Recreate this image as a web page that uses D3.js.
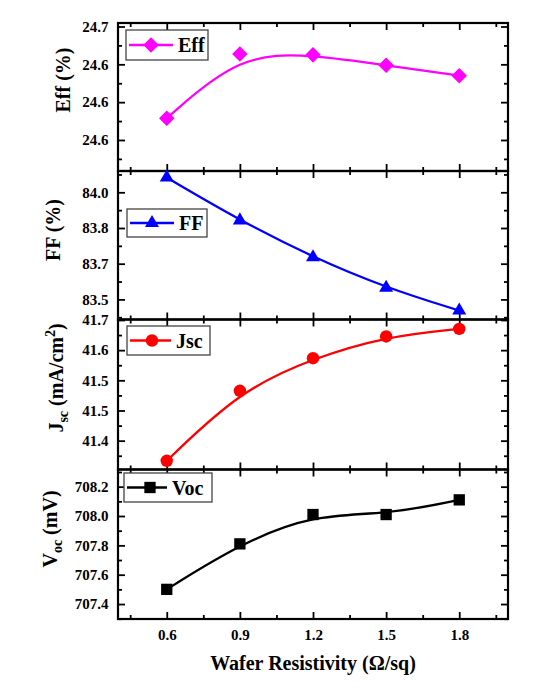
<!DOCTYPE html>
<html lang="en">
<head>
<meta charset="UTF-8">
<title>Cell parameters vs wafer resistivity</title>
<script src="https://d3js.org/d3.v7.min.js"></script>
<style>
  body { margin: 0; background: #fff; }
  svg { display: block; font-family: "Liberation Serif", "Times New Roman", serif; font-weight: bold; }
</style>
</head>
<body>
<svg id="chart" width="553" height="693"></svg>
<script>
// data
const resistivity = [0.6, 0.9, 1.2, 1.5, 1.8];
const effValues = [24.583, 24.651, 24.650, 24.639, 24.628];
const ffValues = [84.062, 83.882, 83.727, 83.599, 83.503];
const jscValues = [41.350, 41.524, 41.605, 41.659, 41.678];
const vocValues = [707.50, 707.81, 708.01, 708.01, 708.11];

const xTicks = [0.6, 0.9, 1.2, 1.5, 1.8];
const xMinorTicks = [0.45, 0.75, 1.05, 1.35, 1.65, 1.95];
const effTicks = [24.56, 24.60, 24.64, 24.68];
const effTickLabels = ["24.6", "24.6", "24.6", "24.7"];
const ffTicks = [83.55, 83.70, 83.85, 84.00];
const ffTickLabels = ["83.5", "83.7", "83.8", "84.0"];
const jscTicks = [41.40, 41.475, 41.55, 41.625, 41.70];
const jscTickLabels = ["41.4", "41.5", "41.5", "41.6", "41.7"];
const vocTicks = [707.4, 707.6, 707.8, 708.0, 708.2];
const vocTickLabels = ["707.4", "707.6", "707.8", "708.0", "708.2"];

const svg = d3.select("#chart");
const left = 118, right = 508;
const edges = [23, 171, 319.5, 469.5, 619];

const x = d3.scaleLinear().domain([0.4, 2.0]).range([left, right]);

const panels = [
  { key: "Eff", values: effValues, ticks: effTicks, labels: effTickLabels, domain: [24.5272, 24.6837],
    color: "#ff00ff", symbol: "diamond", size: 121,
    legend: { x0: 126, x1: 208, y0: 30, y1: 60, mx: 151, tx: 178 }, title: { x: 70, y: 80 } },
  { key: "FF", values: ffValues, ticks: ffTicks, labels: ffTickLabels, domain: [83.4655, 84.0895],
    color: "#0000ff", symbol: "triangle", size: 85,
    legend: { x0: 127, x1: 207, y0: 209, y1: 237, mx: 152, tx: 179 }, title: { x: 60, y: 230 } },
  { key: "Jsc", values: jscValues, ticks: jscTicks, labels: jscTickLabels, domain: [41.3283, 41.7012],
    color: "#ff0000", symbol: "circle", size: 121,
    legend: { x0: 127, x1: 210, y0: 326, y1: 355, mx: 152, tx: 176 }, title: { x: 63, y: 378 } },
  { key: "Voc", values: vocValues, ticks: vocTicks, labels: vocTickLabels, domain: [707.298, 708.317],
    color: "#000000", symbol: "square", size: 128,
    legend: { x0: 124, x1: 212, y0: 473, y1: 502, mx: 150, tx: 172 }, title: { x: 57, y: 529 } }
];

function symbolPath(name, size) {
  const types = { diamond: d3.symbolSquare, triangle: d3.symbolTriangle, circle: d3.symbolCircle, square: d3.symbolSquare };
  return d3.symbol().type(types[name]).size(size)();
}
function symbolTransform(name, px, py) {
  return `translate(${px},${py})` + (name === "diamond" ? " rotate(45)" : "");
}

function styleAxis(sel) {
  sel.select(".domain").remove();
  sel.attr("font-family", null);
  sel.selectAll(".tick line").attr("stroke", "#000").attr("stroke-width", 1.8);
  sel.selectAll(".tick text").attr("fill", "#000")
    .style("font-size", "15px").style("font-family", "'Liberation Serif', 'Times New Roman', serif").style("font-weight", "bold");
}

panels.forEach((p, i) => {
  const top = edges[i], bottom = edges[i + 1];
  const y = d3.scaleLinear().domain(p.domain).range([bottom, top]);
  const g = svg.append("g").attr("class", "panel-" + p.key);

  // minor y ticks at half steps
  const step = p.ticks[1] - p.ticks[0];
  const minor = [];
  for (let v = p.ticks[0] - step / 2; v <= p.domain[1]; v += step) {
    if (v >= p.domain[0] && v <= p.domain[1]) minor.push(v);
  }

  g.append("g").attr("transform", `translate(${left},0)`)
    .call(d3.axisLeft(y).tickValues(p.ticks).tickFormat((d, k) => p.labels[k])
      .tickSizeInner(-7).tickSizeOuter(0).tickPadding(9.5))
    .call(styleAxis);
  g.append("g").attr("transform", `translate(${left},0)`)
    .call(d3.axisLeft(y).tickValues(minor).tickFormat("").tickSizeInner(-4).tickSizeOuter(0))
    .call(styleAxis);
  g.append("g").attr("transform", `translate(${right},0)`)
    .call(d3.axisRight(y).tickValues(p.ticks).tickFormat("").tickSizeInner(-7).tickSizeOuter(0))
    .call(styleAxis);
  g.append("g").attr("transform", `translate(${right},0)`)
    .call(d3.axisRight(y).tickValues(minor).tickFormat("").tickSizeInner(-4).tickSizeOuter(0))
    .call(styleAxis);

  // x ticks on top and bottom of each panel
  const last = i === panels.length - 1;
  g.append("g").attr("transform", `translate(0,${bottom})`)
    .call(d3.axisBottom(x).tickValues(xTicks).tickFormat(last ? d3.format(".1f") : "")
      .tickSizeInner(-7).tickSizeOuter(0).tickPadding(10))
    .call(styleAxis);
  g.append("g").attr("transform", `translate(0,${bottom})`)
    .call(d3.axisBottom(x).tickValues(xMinorTicks).tickFormat("").tickSizeInner(-4).tickSizeOuter(0))
    .call(styleAxis);
  g.append("g").attr("transform", `translate(0,${top})`)
    .call(d3.axisTop(x).tickValues(xTicks).tickFormat("").tickSizeInner(-7).tickSizeOuter(0))
    .call(styleAxis);
  g.append("g").attr("transform", `translate(0,${top})`)
    .call(d3.axisTop(x).tickValues(xMinorTicks).tickFormat("").tickSizeInner(-4).tickSizeOuter(0))
    .call(styleAxis);

  // frame
  g.append("rect")
    .attr("x", left).attr("y", top).attr("width", right - left).attr("height", bottom - top)
    .attr("fill", "none").attr("stroke", "#000").attr("stroke-width", 2.2);

  // smoothed line
  const pts = resistivity.map((r, k) => [r, p.values[k]]);
  g.append("path")
    .datum(pts)
    .attr("fill", "none").attr("stroke", p.color).attr("stroke-width", 2.3)
    .attr("d", d3.line().curve(d3.curveBasis).x(d => x(d[0])).y(d => y(d[1])));

  // markers
  g.selectAll(".marker").data(pts).join("path")
    .attr("class", "marker")
    .attr("d", symbolPath(p.symbol, p.size))
    .attr("transform", d => symbolTransform(p.symbol, x(d[0]), y(d[1])))
    .attr("fill", p.color);

  // legend
  const L = p.legend, my = (L.y0 + L.y1) / 2;
  g.append("rect").attr("x", L.x0).attr("y", L.y0).attr("width", L.x1 - L.x0).attr("height", L.y1 - L.y0)
    .attr("fill", "#fff").attr("stroke", "#444").attr("stroke-width", 1.3);
  g.append("line").attr("x1", L.x0 + 3).attr("x2", L.tx - 5).attr("y1", my).attr("y2", my)
    .attr("stroke", p.color).attr("stroke-width", 2.3);
  g.append("path").attr("d", symbolPath(p.symbol, p.size))
    .attr("transform", symbolTransform(p.symbol, L.mx, my)).attr("fill", p.color);
  g.append("text").attr("x", L.tx).attr("y", my).attr("dy", "0.35em")
    .style("font-size", "20px").text(p.key);

  // y title
  const t = g.append("text")
    .attr("transform", `translate(${p.title.x},${p.title.y}) rotate(-90)`)
    .attr("text-anchor", "middle").style("font-size", "20px");
  if (p.key === "Eff") t.text("Eff (%)");
  if (p.key === "FF") t.text("FF (%)");
  if (p.key === "Jsc") {
    t.append("tspan").text("J");
    t.append("tspan").attr("dy", 5).style("font-size", "14px").text("sc");
    t.append("tspan").attr("dy", -5).text(" (mA/cm");
    t.append("tspan").attr("dy", -8).style("font-size", "14px").text("2");
    t.append("tspan").attr("dy", 8).text(")");
  }
  if (p.key === "Voc") {
    t.append("tspan").text("V");
    t.append("tspan").attr("dy", 5).style("font-size", "14px").text("oc");
    t.append("tspan").attr("dy", -5).text(" (mV)");
  }
});

svg.append("text")
  .attr("x", (left + right) / 2).attr("y", 669.5)
  .attr("text-anchor", "middle").style("font-size", "20px")
  .text("Wafer Resistivity (\u03a9/sq)");
</script>
</body>
</html>
